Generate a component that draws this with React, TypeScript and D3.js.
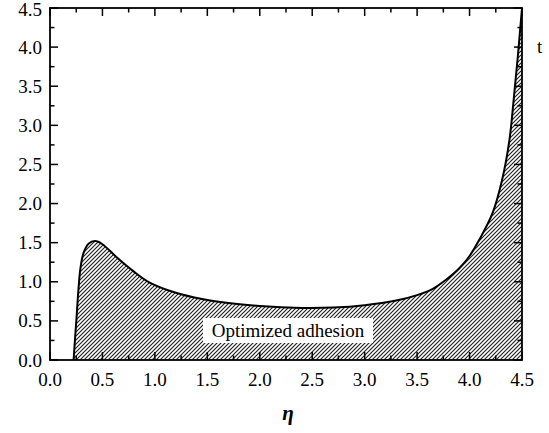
import React from "react";
import * as d3 from "d3";

const etaValues = [0.225, 0.24, 0.255, 0.27, 0.29, 0.32, 0.37, 0.43, 0.5, 0.63, 0.8, 0.95, 1.2, 1.45, 1.7, 2.0, 2.4, 2.7, 3.0, 3.3, 3.5, 3.65, 3.77, 3.9, 4.0, 4.09, 4.22, 4.31, 4.38, 4.42, 4.46, 4.5];
const adhesionValues = [0, 0.3, 0.58, 0.88, 1.17, 1.37, 1.49, 1.52, 1.48, 1.32, 1.13, 0.99, 0.86, 0.78, 0.73, 0.69, 0.665, 0.67, 0.7, 0.76, 0.83, 0.91, 1.02, 1.17, 1.33, 1.53, 1.88, 2.3, 2.81, 3.32, 3.88, 4.5];
const tickLabels = ["0.0", "0.5", "1.0", "1.5", "2.0", "2.5", "3.0", "3.5", "4.0", "4.5"];
const annotation = "Optimized adhesion";
const xTitle = "η";

const W = 549, H = 433;
const L = 50, R = 522, T = 8, B = 360;

export default function App() {
  const x = d3.scaleLinear().domain([0, 4.5]).range([L, R]);
  const y = d3.scaleLinear().domain([0, 4.5]).range([B, T]);
  const data = etaValues.map((e, i) => ({ e, v: adhesionValues[i] }));
  const curve = d3.curveCatmullRom.alpha(0.5);
  const area = d3.area<{ e: number; v: number }>()
    .x(d => x(d.e)).y0(y(0)).y1(d => y(d.v)).curve(curve);
  const line = d3.line<{ e: number; v: number }>()
    .x(d => x(d.e)).y(d => y(d.v)).curve(curve);
  const minor = d3.range(0, 4.5001, 0.25);
  const ts = { fontFamily: "'Liberation Serif', 'DejaVu Serif', 'Times New Roman', Times, serif" };
  return (
    <svg width={W} height={H} style={{ position: "absolute", left: 0, top: 0, background: "#fff" }}>
      <defs>
        <pattern id="hatch" patternUnits="userSpaceOnUse" width={4} height={4}>
          <path d="M-1,1 l2,-2 M0,4 l4,-4 M3,5 l2,-2" stroke="#222" strokeWidth={1.2} />
        </pattern>
      </defs>
      <path d={area(data) || ""} fill="url(#hatch)" />
      <path d={line(data) || ""} fill="none" stroke="#000" strokeWidth={2} />
      <rect x={203} y={318} width={170} height={25} fill="#fff" />
      <text x={288} y={337} textAnchor="middle" style={ts} fontSize={19} fill="#000">{annotation}</text>
      {minor.map((t, i) => {
        const major = i % 2 === 0;
        const len = major ? 8 : 4.5;
        return (
          <g key={i} stroke="#000" strokeWidth={1.5}>
            <line x1={x(t)} x2={x(t)} y1={B} y2={B - len} />
            <line x1={x(t)} x2={x(t)} y1={T} y2={T + len} />
            <line x1={L} x2={L + len} y1={y(t)} y2={y(t)} />
            <line x1={R} x2={R - len} y1={y(t)} y2={y(t)} />
          </g>
        );
      })}
      <rect x={L} y={T} width={R - L} height={B - T} fill="none" stroke="#000" strokeWidth={1.8} />
      {tickLabels.map((lab) => (
        <g key={lab}>
          <text x={x(+lab)} y={386} textAnchor="middle" style={ts} fontSize={19} fill="#000">{lab}</text>
          <text x={42} y={Math.max(y(+lab) + 6.5, 16)} textAnchor="end" style={ts} fontSize={19} fill="#000">{lab}</text>
        </g>
      ))}
      <text x={288} y={420} textAnchor="middle" style={ts} fontSize={21} fontWeight="bold" fontStyle="italic" fill="#000">{xTitle}</text>
      <text x={537} y={53} style={ts} fontSize={19} fill="#000">t</text>
    </svg>
  );
}
